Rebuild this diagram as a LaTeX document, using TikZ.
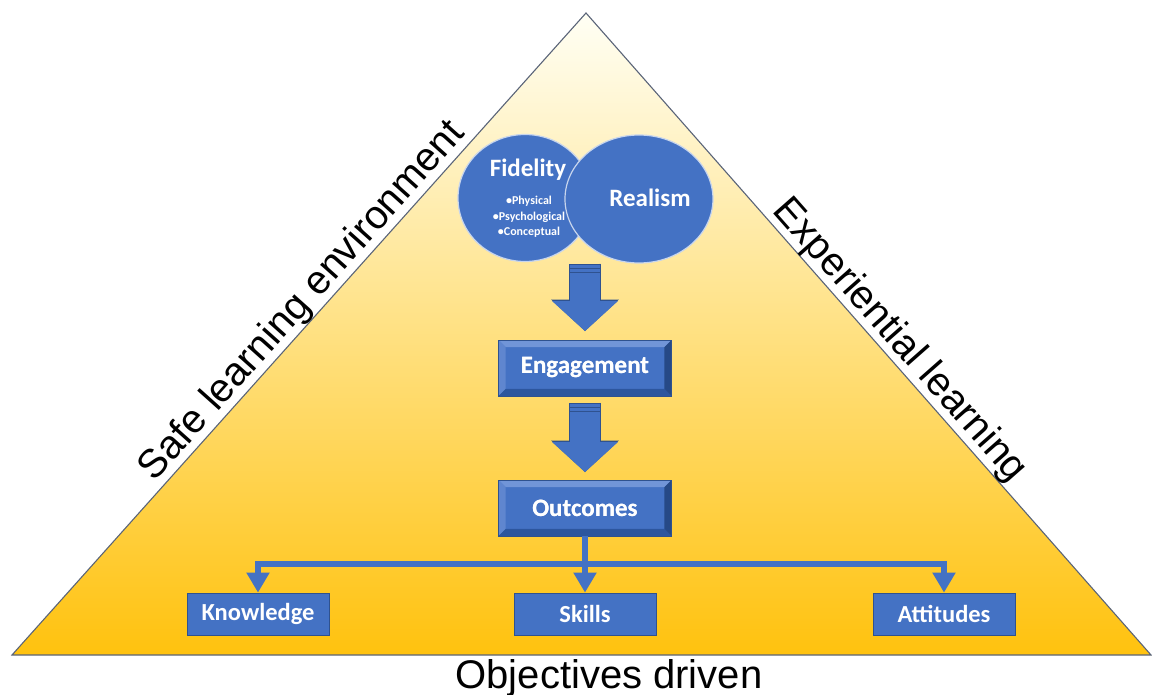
\documentclass[tikz,border=0pt]{standalone}
\usepackage{fontspec}
\setmainfont{Liberation Sans}
\newfontfamily\boxfont{Carlito}
\usepackage{tikz}
\usetikzlibrary{arrows.meta, shapes.geometric, positioning, calc}

\definecolor{fillblue}{HTML}{4472C4}
\definecolor{edgeblue}{HTML}{2F528F}
\definecolor{bevlight}{HTML}{7195D8}
\definecolor{bevside}{HTML}{5F86CF}
\definecolor{bevdark}{HTML}{2D569E}
\definecolor{trigray}{HTML}{5A6478}

% raised frame round a box node
\newcommand{\bevel}[1]{%
  \fill[bevlight] (#1.north west) -- (#1.north east) -- ($(#1.north east)+(-7,7)$) -- ($(#1.north west)+(7,7)$) -- cycle;
  \fill[bevside] (#1.north west) -- ($(#1.north west)+(7,7)$) -- ($(#1.south west)+(7,-7)$) -- (#1.south west) -- cycle;
  \fill[bevdark] (#1.south west) -- ($(#1.south west)+(7,-7)$) -- ($(#1.south east)+(-7,-7)$) -- (#1.south east) -- cycle;
  \fill[bevdark!85!black] (#1.north east) -- ($(#1.north east)+(-7,7)$) -- ($(#1.south east)+(-7,-7)$) -- (#1.south east) -- cycle;
  \draw[edgeblue, line width=0.8pt] (#1.north west) rectangle (#1.south east);
}

\begin{document}
\begin{tikzpicture}[x=1pt, y=-1pt,
    side/.style={font=\fontsize{40}{48}\selectfont, inner sep=0pt, anchor=south},
    blob/.style={ellipse, fill=fillblue, draw=white!70!fillblue, line width=1.2pt, inner sep=0pt},
    blobtext/.style={text=white, inner sep=0pt, font=\boxfont\bfseries\fontsize{25}{30}\selectfont},
    bevelbox/.style={rectangle, fill=fillblue, draw=edgeblue, line width=0.8pt, minimum width=172pt, minimum height=55pt, text=white, font=\boxfont\bfseries\fontsize{25}{30}\selectfont},
    leaf/.style={rectangle, fill=fillblue, draw=edgeblue, line width=0.8pt, minimum width=142pt, minimum height=42pt, text=white, font=\boxfont\bfseries\fontsize{24.5}{30}\selectfont},
    bigarrow/.style={draw=fillblue, line width=30pt, -{Triangle[width=64pt,length=30pt]},
        preaction={draw=edgeblue, line width=31.5pt, -{Triangle[width=66pt,length=31.5pt]}}},
    feed/.style={draw=fillblue, line width=6pt, -{Triangle[width=22pt,length=20pt]}}
  ]
  \useasboundingbox (0,0) rectangle (1152,695);

  % the pyramid
  \coordinate (apex) at (586,13);
  \coordinate (bl) at (12,655);
  \coordinate (br) at (1151,655);
  \draw[trigray, line width=1.1pt, top color=yellow!4!white, middle color={rgb,255:red,255;green,233;blue,166}, bottom color={rgb,255:red,255;green,194;blue,14}]
    (bl) -- (apex) -- (br) -- cycle;

  \node[side, rotate=48.2] (safe) at ($(bl)!0.531!(apex)$) {Safe learning environment};
  \node[side, rotate=-48.6] (exp) at ($(apex)!0.53!(br)$) {Experiential learning};
  \node[side, anchor=base] (obj) at (609,688) {Objectives driven};

  % fidelity and realism
  \node[blob, minimum width=134pt, minimum height=127pt] (fidelity) at (525,198) {};
  \node[blob, minimum width=148pt, minimum height=128pt] (realism) at (639,199) {};
  \node[blobtext] (fidtitle) at (528,170) {Fidelity};
  \node[blobtext, align=center, font=\boxfont\bfseries\fontsize{12}{15.5}\selectfont] (fidlist) at (529,217) {•Physical\\•Psychological\\•Conceptual};
  \node[blobtext] (realtxt) at (650,198) {Realism};

  % chain of boxes
  \node[bevelbox] (engage) at (585,368) {Engagement};
  \bevel{engage}
  \node[bevelbox, draw=none, fill=none] at (engage) {Engagement};
  \node[bevelbox] (outcome) at (585,508) {Outcomes};
  \bevel{outcome}
  \node[bevelbox, draw=none, fill=none] at (outcome) {Outcomes};

  \coordinate (a1) at (engage.north |- realism.south);
  \draw[bigarrow, shorten >=9pt] (a1) -- (engage.north);
  \draw[bigarrow, shorten <=7pt, shorten >=8pt] (engage.south) -- (outcome.north);
  \foreach \d in {0.5,4.5,8.5} {
    \draw[edgeblue, line width=0.7pt] ($(a1)+(-15,\d)$) -- ($(a1)+(15,\d)$);
    \draw[edgeblue, line width=0.7pt] ($(engage.south)+(-15,7+\d)$) -- ($(engage.south)+(15,7+\d)$);
  }

  % three results
  \node[leaf] (knowledge) at (258,614) {Knowledge};
  \node[leaf] (skills) at (585,614) {Skills};
  \node[leaf] (attitudes) at (944,614) {Attitudes};

  \draw[feed] (outcome.south) -- (skills.north);
  \draw[feed] (outcome.south) -- ++(0,28) -| (knowledge.north);
  \draw[feed] (outcome.south) -- ++(0,28) -| (attitudes.north);
\end{tikzpicture}
\end{document}
